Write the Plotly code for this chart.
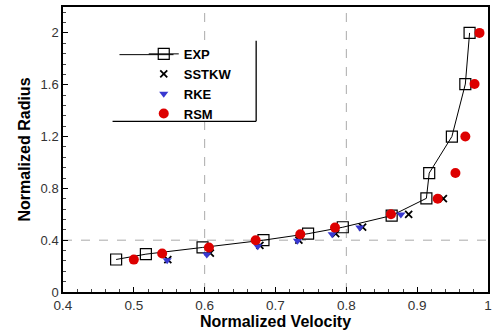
import plotly.graph_objects as go

# ---- data ----
exp_v = [0.475, 0.517, 0.597, 0.683, 0.746, 0.795, 0.864, 0.913, 0.917, 0.949, 0.968, 0.974]
exp_r = [0.251, 0.292, 0.344, 0.400, 0.450, 0.500, 0.590, 0.723, 0.918, 1.200, 1.605, 2.000]

sst_v = [0.548, 0.608, 0.678, 0.733, 0.785, 0.823, 0.888, 0.937]
sst_r = [0.250, 0.300, 0.360, 0.400, 0.450, 0.500, 0.600, 0.720]

rke_v = [0.547, 0.603, 0.675, 0.731, 0.780, 0.819, 0.877]
rke_r = [0.246, 0.290, 0.354, 0.395, 0.446, 0.497, 0.598]

rsm_v = [0.500, 0.540, 0.606, 0.672, 0.735, 0.784, 0.863, 0.929, 0.954, 0.968, 0.981, 0.988]
rsm_r = [0.250, 0.297, 0.344, 0.400, 0.446, 0.497, 0.600, 0.720, 0.918, 1.200, 1.605, 2.000]

x_ticks = [0.4, 0.5, 0.6, 0.7, 0.8, 0.9, 1.0]
x_tick_text = ["0.4", "0.5", "0.6", "0.7", "0.8", "0.9", "1"]
y_ticks = [0, 0.4, 0.8, 1.2, 1.6, 2.0]
y_tick_text = ["0", "0.4", "0.8", "1.2", "1.6", "2"]
grid_x = [0.6, 0.8]
grid_y = [0.4]

FONT = "Liberation Sans, Arial, sans-serif"

fig = go.Figure()
fig.add_trace(go.Scatter(x=exp_v, y=exp_r, mode="lines+markers", name="EXP",
                         line=dict(color="black", width=1),
                         marker=dict(symbol="square-open", size=11, color="black",
                                     line=dict(width=1.2))))
fig.add_trace(go.Scatter(x=sst_v, y=sst_r, mode="markers", name="SSTKW",
                         marker=dict(symbol="x-thin-open", size=7, color="black",
                                     line=dict(width=1.8, color="black"))))
fig.add_trace(go.Scatter(x=rke_v, y=rke_r, mode="markers", name="RKE",
                         marker=dict(symbol="triangle-down", size=8, color="#3838d0")))
fig.add_trace(go.Scatter(x=rsm_v, y=rsm_r, mode="markers", name="RSM",
                         marker=dict(symbol="circle", size=10, color="#dd0000")))

shapes = []
for gx in grid_x:
    shapes.append(dict(type="line", xref="x", yref="y domain", x0=gx, x1=gx, y0=0, y1=1,
                       line=dict(color="#aaaaaa", width=1, dash="dash"), layer="below"))
for gy in grid_y:
    shapes.append(dict(type="line", xref="x domain", yref="y", x0=0, x1=1, y0=gy, y1=gy,
                       line=dict(color="#aaaaaa", width=1, dash="dash"), layer="below"))
# legend box (white background, bottom and right edges)
lx0, lx1, ly0, ly1 = 0.1166, 0.4545, 0.599, 0.8815
shapes.append(dict(type="rect", xref="x domain", yref="y domain", x0=lx0, x1=lx1, y0=ly0, y1=ly1,
                   fillcolor="white", line=dict(width=0), layer="below"))
shapes.append(dict(type="line", xref="x domain", yref="y domain", x0=lx0, x1=lx1, y0=ly0, y1=ly0,
                   line=dict(color="black", width=1.3), layer="above"))
shapes.append(dict(type="line", xref="x domain", yref="y domain", x0=lx1, x1=lx1, y0=ly0, y1=ly1,
                   line=dict(color="black", width=1.3), layer="above"))
# longer line sample for the EXP legend entry
shapes.append(dict(type="line", xref="x domain", yref="y domain", x0=0.1329, x1=0.26,
                   y0=0.8328, y1=0.8328, line=dict(color="black", width=1), layer="below"))

fig.update_layout(
    width=497, height=333,
    margin=dict(l=63, r=5, t=5, b=41),
    paper_bgcolor="white", plot_bgcolor="white",
    font=dict(family=FONT, size=13, color="#333333"),
    shapes=shapes,
    showlegend=True,
    legend=dict(x=0.19, y=0.888, xanchor="left", yanchor="top",
                bgcolor="rgba(0,0,0,0)", borderwidth=0,
                font=dict(family=FONT, size=13, color="black", weight="bold"),
                tracegroupgap=0),
    xaxis=dict(range=[0.4, 1.0], tickvals=x_ticks, ticktext=x_tick_text,
               ticks="inside", ticklen=5, tickcolor="black", showgrid=False,
               showline=True, linecolor="black", linewidth=1.5, mirror=True,
               zeroline=False,
               minor=dict(dtick=0.02, tick0=0.4, ticks="inside", ticklen=3, tickcolor="#444"),
               tickfont=dict(size=13.5, color="#333333"),
               title=dict(text="Normalized Velocity", standoff=0,
                          font=dict(size=16, color="black", weight="bold"))),
    yaxis=dict(range=[0, 2.2], tickvals=y_ticks, ticktext=y_tick_text,
               ticks="inside", ticklen=5, tickcolor="black", showgrid=False,
               showline=True, linecolor="black", linewidth=1.5, mirror=True,
               zeroline=False,
               minor=dict(dtick=0.08, tick0=0, ticks="inside", ticklen=3, tickcolor="#444"),
               tickfont=dict(size=13, color="#333333"),
               title=dict(text="Normalized Radius", standoff=6,
                          font=dict(size=16, color="black", weight="bold"))),
)

fig.write_html("out.html")
